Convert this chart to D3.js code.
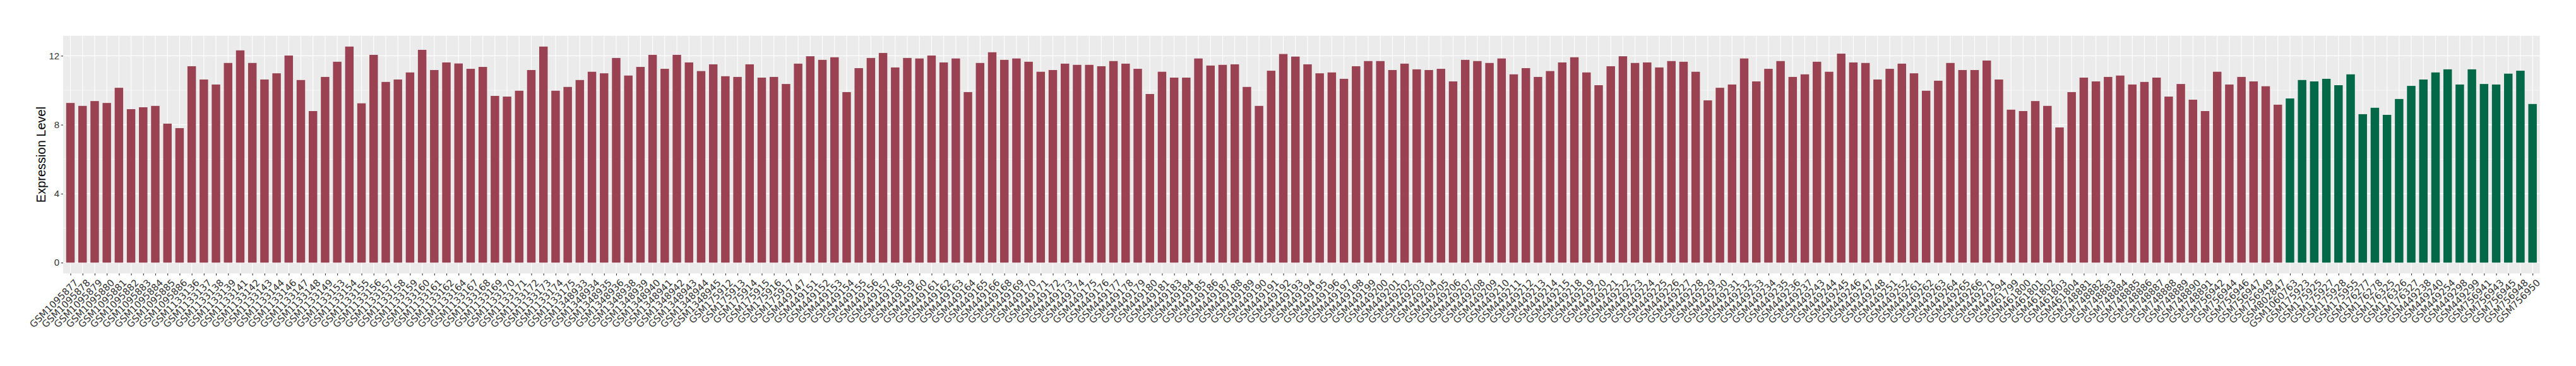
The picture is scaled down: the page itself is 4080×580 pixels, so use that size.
<!DOCTYPE html>
<html>
<head>
<meta charset="utf-8">
<script src="https://cdn.jsdelivr.net/npm/d3@7"></script>
<style>
  html, body { margin: 0; padding: 0; background: #ffffff; }
  svg { display: block; }
</style>
</head>
<body>
<svg id="chart" width="4080" height="580"></svg>
<script>
// ---- Data ----
const samples = [
  "GSM1095877","GSM1095878","GSM1095879","GSM1095880","GSM1095881","GSM1095882","GSM1095883","GSM1095884","GSM1095885","GSM1095886",
  "GSM1133136","GSM1133137","GSM1133138","GSM1133139","GSM1133141","GSM1133142","GSM1133143","GSM1133144","GSM1133146","GSM1133147",
  "GSM1133148","GSM1133149","GSM1133153","GSM1133154","GSM1133155","GSM1133156","GSM1133157","GSM1133158","GSM1133159","GSM1133160",
  "GSM1133161","GSM1133162","GSM1133164","GSM1133167","GSM1133168","GSM1133169","GSM1133170","GSM1133171","GSM1133172","GSM1133173",
  "GSM1133174","GSM1133175","GSM1348933","GSM1348934","GSM1348935","GSM1348936","GSM1348938","GSM1348939","GSM1348940","GSM1348941",
  "GSM1348942","GSM1348943","GSM1348944","GSM1348945","GSM175912","GSM175913","GSM175914","GSM175915","GSM175916","GSM175917",
  "GSM449147","GSM449151","GSM449152","GSM449153","GSM449154","GSM449155","GSM449156","GSM449157","GSM449158","GSM449159",
  "GSM449160","GSM449161","GSM449162","GSM449163","GSM449164","GSM449165","GSM449166","GSM449168","GSM449169","GSM449170",
  "GSM449171","GSM449172","GSM449173","GSM449174","GSM449175","GSM449176","GSM449177","GSM449178","GSM449179","GSM449180",
  "GSM449181","GSM449183","GSM449184","GSM449185","GSM449186","GSM449187","GSM449188","GSM449189","GSM449190","GSM449191",
  "GSM449192","GSM449193","GSM449194","GSM449195","GSM449196","GSM449197","GSM449198","GSM449199","GSM449200","GSM449201",
  "GSM449202","GSM449203","GSM449204","GSM449205","GSM449206","GSM449207","GSM449208","GSM449209","GSM449210","GSM449211",
  "GSM449212","GSM449213","GSM449214","GSM449215","GSM449218","GSM449219","GSM449220","GSM449221","GSM449222","GSM449223",
  "GSM449224","GSM449225","GSM449226","GSM449227","GSM449228","GSM449229","GSM449230","GSM449231","GSM449232","GSM449233",
  "GSM449234","GSM449235","GSM449236","GSM449237","GSM449243","GSM449244","GSM449245","GSM449246","GSM449247","GSM449248",
  "GSM449251","GSM449252","GSM449261","GSM449262","GSM449263","GSM449264","GSM449265","GSM449266","GSM449271","GSM449294",
  "GSM461799","GSM461800","GSM461801","GSM461802","GSM461803","GSM461804","GSM748881","GSM748882","GSM748883","GSM748884",
  "GSM748885","GSM748886","GSM748887","GSM748888","GSM748889","GSM748890","GSM748891","GSM756942","GSM756944","GSM756946",
  "GSM756947","GSM756949","GSM802847",
  "GSM1060763","GSM175923","GSM175925","GSM175927","GSM175928","GSM175955","GSM176277","GSM176278","GSM176325","GSM176326",
  "GSM176327","GSM449238","GSM449240","GSM449254","GSM449298","GSM449299","GSM756941","GSM756943","GSM756945","GSM756948",
  "GSM756950"
];

const expression = [
  9.26, 9.09, 9.37, 9.26, 10.14, 8.90, 9.01, 9.09, 8.06, 7.80,
  11.39, 10.62, 10.33, 11.58, 12.31, 11.58, 10.62, 10.98, 12.01, 10.59,
  8.79, 10.77, 11.65, 12.53, 9.24, 12.05, 10.48, 10.62, 11.03, 12.34,
  11.17, 11.61, 11.55, 11.24, 11.35, 9.67, 9.63, 9.97, 11.17, 12.53,
  9.97, 10.19, 10.59, 11.07, 10.98, 11.87, 10.85, 11.35, 12.05, 11.24,
  12.05, 11.61, 11.11, 11.50, 10.81, 10.77, 11.50, 10.73, 10.77, 10.36,
  11.54, 11.97, 11.76, 11.91, 9.89, 11.28, 11.87, 12.16, 11.32, 11.87,
  11.84, 12.01, 11.61, 11.84, 9.89, 11.58, 12.20, 11.76, 11.84, 11.65,
  11.07, 11.17, 11.54, 11.47, 11.47, 11.39, 11.69, 11.54, 11.24, 9.78,
  11.07, 10.73, 10.73, 11.84, 11.43, 11.47, 11.50, 10.19, 9.09, 11.13,
  12.10, 11.95, 11.50, 10.98, 11.03, 10.66, 11.39, 11.69, 11.69, 11.17,
  11.54, 11.21, 11.17, 11.24, 10.51, 11.76, 11.69, 11.58, 11.84, 10.92,
  11.28, 10.77, 11.11, 11.61, 11.91, 11.03, 10.29, 11.39, 11.97, 11.58,
  11.61, 11.32, 11.69, 11.65, 11.07, 9.41, 10.14, 10.33, 11.84, 10.51,
  11.24, 11.69, 10.77, 10.92, 11.65, 11.07, 12.12, 11.61, 11.58, 10.62,
  11.24, 11.54, 10.98, 9.97, 10.55, 11.58, 11.17, 11.17, 11.72, 10.62,
  8.87, 8.79, 9.37, 9.09, 7.84, 9.89, 10.73, 10.51, 10.77, 10.85,
  10.33, 10.48, 10.73, 9.63, 10.36, 9.45, 8.79, 11.07, 10.33, 10.77,
  10.51, 10.23, 9.16,
  9.52, 10.59, 10.51, 10.66, 10.29, 10.92, 8.61, 8.98, 8.57, 9.49,
  10.25, 10.62, 11.03, 11.21, 10.33, 11.21, 10.36, 10.33, 10.96, 11.13,
  9.20
];

// group membership: first 183 samples in group A, last 21 in group B
const groupNames = ["A", "B"];
const groupCounts = [183, 21];
const groupColors = ["#9A4251", "#036847"];

const yTicks = [0, 4, 8, 12];
const yMinorTicks = [2, 6, 10];
const yTitle = "Expression Level";

// ---- Layout ----
const panel = { left: 100, right: 4022.7, top: 56.7, bottom: 433.3 };

const groups = [];
groupCounts.forEach((c, gi) => { for (let i = 0; i < c; i++) groups.push(groupNames[gi]); });
const data = samples.map((s, i) => ({ sample: s, value: expression[i], group: groups[i] }));

const svg = d3.select("#chart");

const x = d3.scalePoint()
  .domain(samples)
  .range([panel.left, panel.right])
  .padding(0.6);

const maxV = d3.max(expression);
const y = d3.scaleLinear()
  .domain([-0.05 * maxV, maxV * 1.05])
  .range([panel.bottom, panel.top]);

const color = d3.scaleOrdinal().domain(groupNames).range(groupColors);

// panel background
svg.append("rect")
  .attr("x", panel.left).attr("y", panel.top)
  .attr("width", panel.right - panel.left)
  .attr("height", panel.bottom - panel.top)
  .attr("fill", "#EBEBEB");

// minor horizontal grid
svg.append("g").selectAll("line").data(yMinorTicks).join("line")
  .attr("x1", panel.left).attr("x2", panel.right)
  .attr("y1", d => y(d)).attr("y2", d => y(d))
  .attr("stroke", "#ffffff").attr("stroke-width", 0.6);

// major horizontal grid
svg.append("g").selectAll("line").data(yTicks).join("line")
  .attr("x1", panel.left).attr("x2", panel.right)
  .attr("y1", d => y(d)).attr("y2", d => y(d))
  .attr("stroke", "#ffffff").attr("stroke-width", 1.2);

// vertical grid
svg.append("g").selectAll("line").data(samples).join("line")
  .attr("x1", d => x(d)).attr("x2", d => x(d))
  .attr("y1", panel.top).attr("y2", panel.bottom)
  .attr("stroke", "#ffffff").attr("stroke-width", 1.1);

// bars
const barW = x.step() * 0.7;
svg.append("g").selectAll("rect").data(data).join("rect")
  .attr("x", d => x(d.sample) - barW / 2)
  .attr("width", barW)
  .attr("y", d => y(d.value))
  .attr("height", d => y(0) - y(d.value))
  .attr("fill", d => color(d.group));

// y axis
const yAxis = d3.axisLeft(y).tickValues(yTicks).tickSize(3.3).tickPadding(2.5).tickFormat(d3.format("d"));
const gy = svg.append("g").attr("transform", `translate(${panel.left},0)`).call(yAxis);
gy.select(".domain").remove();
gy.selectAll(".tick line").attr("stroke", "#333333").attr("stroke-width", 1.1);
gy.selectAll(".tick text")
  .attr("fill", "#333333")
  .style("font-family", "'Liberation Sans', Arial, sans-serif")
  .style("font-size", "15px");

// x axis
const xAxis = d3.axisBottom(x).tickSize(3.3).tickPadding(0);
const gx = svg.append("g").attr("transform", `translate(0,${panel.bottom})`).call(xAxis);
gx.select(".domain").remove();
gx.selectAll(".tick line").attr("stroke", "#333333").attr("stroke-width", 1.1);
gx.selectAll(".tick text")
  .attr("fill", "#333333")
  .attr("text-anchor", "end")
  .attr("y", 0)
  .attr("dy", "0.72em")
  .attr("transform", "translate(5,8) rotate(-45)")
  .style("font-family", "'DejaVu Sans', sans-serif")
  .style("font-size", "15px");

// y title
svg.append("text")
  .attr("transform", `translate(72,${(panel.top + panel.bottom) / 2}) rotate(-90)`)
  .attr("text-anchor", "middle")
  .style("font-family", "'Liberation Sans', Arial, sans-serif")
  .style("font-size", "20px")
  .attr("fill", "#000000")
  .text(yTitle);
</script>
</body>
</html>
